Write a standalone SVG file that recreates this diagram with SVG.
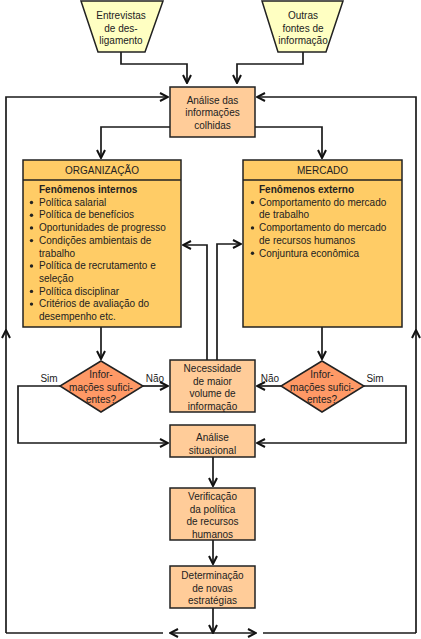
<svg xmlns="http://www.w3.org/2000/svg" width="421" height="639" viewBox="0 0 421 639">
<style>
text{font-family:"Liberation Sans",Arial,sans-serif;font-size:10px;fill:#222}
.c{text-anchor:middle}
.b{font-weight:bold}
.box{stroke:#222;stroke-width:1.5}
.trap{fill:#FFFFC2}
.peach{fill:#FFCC99}
.gold{fill:#FFCC66}
.dia{fill:#FF9966}
.ln{fill:none;stroke:#1a1a1a;stroke-width:1.7}
.arr{marker-end:url(#a)}
</style>
<defs>
<marker id="a" viewBox="0 0 10 10" refX="9" refY="5" markerWidth="10" markerHeight="10" markerUnits="userSpaceOnUse" orient="auto">
<path d="M1,1 L9,5 L1,9" fill="none" stroke="#111" stroke-width="2"/>
</marker>
</defs>
<rect width="421" height="639" fill="#fff"/>

<g id="connectors">
<path class="ln arr" d="M121,52 V64 H187 V83"/>
<path class="ln arr" d="M303,52 V64 H237 V83"/>
<path class="ln arr" d="M6,633 V330"/>
<path class="ln arr" d="M6,330 V97 H168"/>
<path class="ln arr" d="M416,633 V330"/>
<path class="ln arr" d="M416,330 V97 H257"/>
<path class="ln arr" d="M170,127 H101 V158"/>
<path class="ln arr" d="M255,127 H322 V158"/>
<path class="ln arr" d="M101,327 V359"/>
<path class="ln arr" d="M322,327 V359"/>
<path class="ln arr" d="M143,386 H168"/>
<path class="ln arr" d="M281,386 H257"/>
<path class="ln arr" d="M60,386 H18 V443 H168"/>
<path class="ln arr" d="M364,386 H406 V443 H257"/>
<path class="ln arr" d="M207,360 V245 H183"/>
<path class="ln arr" d="M217,360 V244 H241"/>
<path class="ln arr" d="M213,457 V486"/>
<path class="ln arr" d="M213,540 V564"/>
<path class="ln arr" d="M213,608 V633"/>
<path class="ln arr" d="M213,633 H170"/>
<path class="ln arr" d="M213,633 H256"/>
<path class="ln" d="M6,633 H163"/>
<path class="ln" d="M263,633 H416"/>
<text x="49" y="382" class="c">Sim</text>
<text x="155" y="382" class="c">Não</text>
<text x="270" y="382" class="c">Não</text>
<text x="375" y="382" class="c">Sim</text>
</g>

<g id="entrevistas">
<polygon class="box trap" points="81,1 163,1 145,52 98,52"/>
<text x="121" y="19" class="c">Entrevistas</text>
<text x="121" y="31.7" class="c">de des-</text>
<text x="121" y="44.4" class="c">ligamento</text>
</g>

<g id="outras-fontes">
<polygon class="box trap" points="262,1 343,1 326,52 278,52"/>
<text x="303" y="19" class="c">Outras</text>
<text x="303" y="31.7" class="c">fontes de</text>
<text x="303" y="44.4" class="c">informação</text>
</g>

<g id="analise-informacoes">
<rect class="box peach" x="170" y="87" width="85" height="50"/>
<text x="212.5" y="103.5" class="c">Análise das</text>
<text x="212.5" y="116.2" class="c">informações</text>
<text x="212.5" y="128.9" class="c">colhidas</text>
</g>

<g id="organizacao">
<rect class="box gold" x="23" y="160" width="158" height="167"/>
<line class="box" x1="23" y1="180" x2="181" y2="180"/>
<text x="102" y="174" class="c">ORGANIZAÇÃO</text>
<text x="39" y="193" class="b">Fenômenos internos</text>
<g fill="#222">
<circle cx="31.5" cy="202.5" r="1.7"/>
<circle cx="31.5" cy="215.2" r="1.7"/>
<circle cx="31.5" cy="227.9" r="1.7"/>
<circle cx="31.5" cy="240.6" r="1.7"/>
<circle cx="31.5" cy="266" r="1.7"/>
<circle cx="31.5" cy="291.4" r="1.7"/>
<circle cx="31.5" cy="304.1" r="1.7"/>
</g>
<text x="39" y="205.7">Política salarial</text>
<text x="39" y="218.4">Política de benefícios</text>
<text x="39" y="231.1">Oportunidades de progresso</text>
<text x="39" y="243.8">Condições ambientais de</text>
<text x="39" y="256.5">trabalho</text>
<text x="39" y="269.2">Política de recrutamento e</text>
<text x="39" y="281.9">seleção</text>
<text x="39" y="294.6">Política disciplinar</text>
<text x="39" y="307.3">Critérios de avaliação do</text>
<text x="39" y="320">desempenho etc.</text>
</g>

<g id="mercado">
<rect class="box gold" x="243" y="160" width="159" height="167"/>
<line class="box" x1="243" y1="180" x2="402" y2="180"/>
<text x="322.5" y="174" class="c">MERCADO</text>
<text x="259" y="193" class="b">Fenômenos externo</text>
<g fill="#222">
<circle cx="252.5" cy="202.5" r="1.7"/>
<circle cx="252.5" cy="227.9" r="1.7"/>
<circle cx="252.5" cy="253.3" r="1.7"/>
</g>
<text x="259" y="205.7">Comportamento do mercado</text>
<text x="259" y="218.4">de trabalho</text>
<text x="259" y="231.1">Comportamento do mercado</text>
<text x="259" y="243.8">de recursos humanos</text>
<text x="259" y="256.5">Conjuntura econômica</text>
</g>

<g id="decisao-org">
<polygon class="box dia" points="101,361 143,386 101,412 60,386"/>
<text x="101" y="378" class="c">Infor-</text>
<text x="101" y="390.5" class="c">mações sufici-</text>
<text x="101" y="403" class="c">entes?</text>
</g>

<g id="decisao-mercado">
<polygon class="box dia" points="322,361 364,386 322,412 281,386"/>
<text x="322" y="378" class="c">Infor-</text>
<text x="322" y="390.5" class="c">mações sufici-</text>
<text x="322" y="403" class="c">entes?</text>
</g>

<g id="necessidade">
<rect class="box peach" x="170" y="360" width="85" height="52"/>
<text x="212.5" y="372" class="c">Necessidade</text>
<text x="212.5" y="384.5" class="c">de maior</text>
<text x="212.5" y="397" class="c">volume de</text>
<text x="212.5" y="409.5" class="c">informação</text>
</g>

<g id="analise-situacional">
<rect class="box peach" x="170" y="425" width="85" height="32"/>
<text x="212.5" y="441" class="c">Análise</text>
<text x="212.5" y="453.7" class="c">situacional</text>
</g>

<g id="verificacao">
<rect class="box peach" x="170" y="488" width="85" height="52"/>
<text x="212.5" y="500" class="c">Verificação</text>
<text x="212.5" y="512.5" class="c">da política</text>
<text x="212.5" y="525" class="c">de recursos</text>
<text x="212.5" y="537.5" class="c">humanos</text>
</g>

<g id="determinacao">
<rect class="box peach" x="170" y="566" width="85" height="42"/>
<text x="212.5" y="579" class="c">Determinação</text>
<text x="212.5" y="591.5" class="c">de novas</text>
<text x="212.5" y="604" class="c">estratégias</text>
</g>
</svg>
